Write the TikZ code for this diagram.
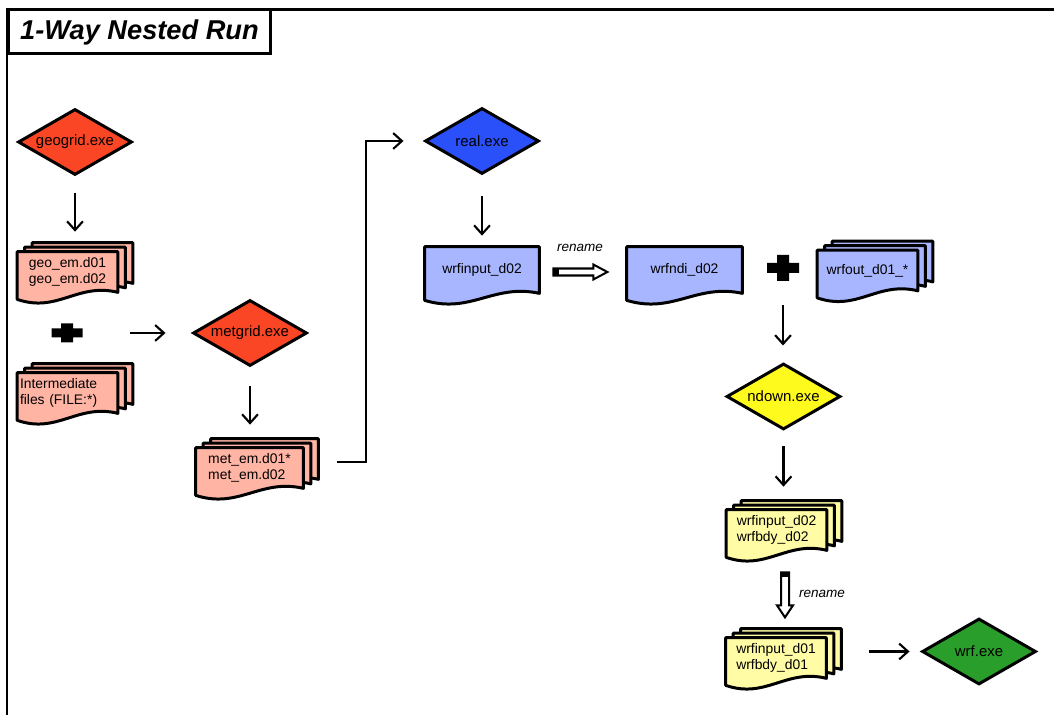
\documentclass[tikz,border=0pt]{standalone}
\usepackage{fontspec}
\setmainfont{Liberation Sans}
\usetikzlibrary{arrows.meta,shapes.geometric,calc,backgrounds}

\definecolor{exered}{RGB}{250,70,36}
\definecolor{filered}{RGB}{255,180,164}
\definecolor{exeblue}{RGB}{42,80,250}
\definecolor{fileblue}{RGB}{168,182,255}
\definecolor{exeyellow}{RGB}{255,250,30}
\definecolor{fileyellow}{RGB}{255,252,165}
\definecolor{exegreen}{RGB}{42,158,42}

\tikzset{
  frame/.style={line width=1.7pt},
  exe/.style={diamond, aspect=1.7, draw, line width=1.7pt, minimum width=2.28cm,
    minimum height=1.32cm, inner sep=0pt, font=\fontsize{8.5}{10}\selectfont},
  file/.style={minimum width=2cm, minimum height=0.8cm, inner sep=1pt, align=left,
    font=\fontsize{7.9}{9.3}\selectfont},
  sheet/.style={draw, line width=1.7pt, line join=round},
  flow/.style={-{Straight Barb[length=5pt,width=9pt]}, line width=1.2pt},
  hollow/.style={draw, fill=white, line width=1.15pt, line join=miter},
  lbl/.style={font=\fontsize{7.7}{9}\selectfont\itshape},
}

% one page of a file, #3 = shift of the page
\newcommand\docsheet[3]{%
  \draw[sheet, fill=#2] ($(#1.north west)+(#3)$) -- ($(#1.north east)+(#3)$)
    -- ($(#1.south east)+(#3)$)
    .. controls ($(#1.south east)!0.4!(#1.south west)+(#3)+(0,-10)$)
    and ($(#1.south east)!0.6!(#1.south west)+(#3)+(0,21)$)
    .. ($(#1.south west)+(#3)+(0,7)$) -- cycle;}
\newcommand\docstack[2]{%
  \docsheet{#1}{#2}{15,-9}\docsheet{#1}{#2}{7.5,-4.5}\docsheet{#1}{#2}{0,0}}

\begin{document}
\begin{tikzpicture}[x=0.02cm, y=-0.02cm]
    \useasboundingbox (0,0) rectangle (1054,715);

    % frame and title
    \draw[frame] (7,730) -- (7,10) -- (1070,10);
    \node[draw, frame, minimum width=5.26cm, minimum height=0.88cm,
      font=\fontsize{15.5}{18}\selectfont\bfseries\itshape] (title) at (139.5,32) {1-Way Nested Run};

    % WPS
    \node[exe, fill=exered] (geogrid) at (75,142) {geogrid.exe};
    \node[file] (geoem) at (67.5,272) {geo\_em.d01\\geo\_em.d02};
    \coordinate (plusA) at (67,333);
    \node[file, text width=1.9cm, inner sep=0.05cm] (inter) at (67.5,393) {Intermediate\\files (FILE:*)};
    \node[exe, fill=exered] (metgrid) at (250,333) {metgrid.exe};
    \node[file, minimum width=2.14cm] (metem) at (249.5,468) {met\_em.d01*\\met\_em.d02};

    % real and ndown
    \node[exe, fill=exeblue] (real) at (482,141) {real.exe};
    \node[file, minimum width=2.28cm, minimum height=0.92cm] (wrfin) at (482,270) {wrfinput\_d02};
    \coordinate (renA) at ([shift={(14,2)}]wrfin.east);
    \node[lbl] (renlblA) at (580,248) {rename};
    \node[file, minimum width=2.3cm, minimum height=0.92cm] (wrfndi) at (684.5,270) {wrfndi\_d02};
    \coordinate (plusB) at (783,268);
    \node[file] (wrfout) at (867.5,270.5) {wrfout\_d01\_*};
    \node[exe, fill=exeyellow] (ndown) at (783.5,396.5) {ndown.exe};
    \node[file] (ndout) at (776.5,530) {wrfinput\_d02\\wrfbdy\_d02};
    \coordinate (renB) at ([shift={(8.5,22)}]ndout.south);
    \node[lbl] (renlblB) at (822,594) {rename};
    \node[file] (wrfbdy) at (776,658) {wrfinput\_d01\\wrfbdy\_d01};
    \node[exe, fill=exegreen] (wrf) at (979,651.5) {wrf.exe};

    \begin{scope}[on background layer]
      \docstack{geoem}{filered}
      \docstack{inter}{filered}
      \docstack{metem}{filered}
      \docsheet{wrfin}{fileblue}{0,0}
      \docsheet{wrfndi}{fileblue}{0,0}
      \docstack{wrfout}{fileblue}
      \docstack{ndout}{fileyellow}
      \docstack{wrfbdy}{fileyellow}
    \end{scope}

    % plus signs
    \fill[shift={(plusA)}] (-15.5,-4.5) rectangle (15.5,4.5) (-6,-9.5) rectangle (6,9.5);
    \fill[shift={(plusB)}] (-16,-5) rectangle (16,5) (-6,-13) rectangle (6,13);

    % arrows
    \draw[flow, shorten <=0.34cm, shorten >=0.4cm] (geogrid.south) -- (geogrid.south |- geoem.north);
    \draw[flow, shorten <=1.26cm, shorten >=0.52cm] (plusA) -- (metgrid.west);
    \draw[flow, shorten <=0.38cm, shorten >=0.46cm] (metgrid.south) -- (metgrid.south |- metem.north);
    \draw[flow, shorten >=0.4cm] ([shift={(34,-6)}]metem.east) -| ($(metem.east)!0.525!(real.west)$) |- (real.west);
    \draw[flow, shorten <=0.41cm, shorten >=0.22cm] (real.south) -- (wrfin.north);
    \draw[flow, shorten <=0.74cm, shorten >=0.33cm] (plusB) -- (plusB |- ndown.north);
    \draw[flow, shorten <=0.31cm, shorten >=0.46cm] (ndown.south) -- (ndown.south |- ndout.north);
    \draw[flow, shorten <=0.86cm, shorten >=0.22cm] (wrfbdy.east |- wrf.west) -- (wrf.west);

    % rename arrows
    \draw[hollow] (renA) ++(0,-3.5) -- ++(40,0) -- ++(0,-4) -- ++(14,7.5) -- ++(-14,7.5)
      -- ++(0,-4) -- ++(-40,0) -- cycle;
    \fill (renA) ++(0,-3.5) rectangle ++(6,7);
    \draw[hollow] (renB) ++(-4,0) -- ++(8,0) -- ++(0,33) -- ++(4,0) -- ++(-8,12) -- ++(-8,-12)
      -- ++(4,0) -- cycle;
    \fill (renB) ++(-4,0) rectangle ++(8,5);
\end{tikzpicture}
\end{document}
